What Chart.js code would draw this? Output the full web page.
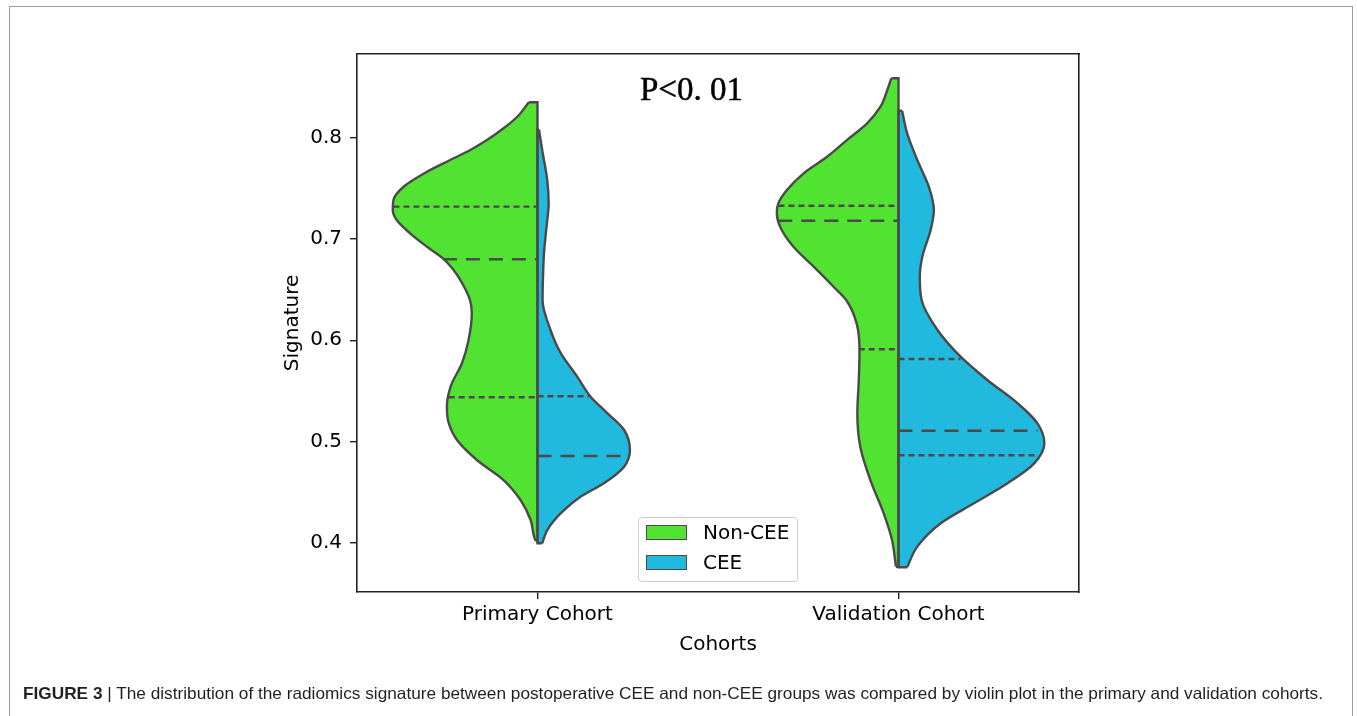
<!DOCTYPE html>
<html>
<head>
<meta charset="utf-8">
<script src="https://cdn.jsdelivr.net/npm/chart.js@4.4.0/dist/chart.umd.min.js"></script>
<style>
html,body{margin:0;padding:0;background:#fff;}
#wrap{position:relative;width:1357px;height:716px;overflow:hidden;background:#fff;}
#frame{position:absolute;left:9px;top:6px;width:1344px;height:800px;border:1px solid #9c9c9c;box-sizing:border-box;}
#c{position:absolute;left:0;top:0;}
#ptext{position:absolute;left:640px;top:69px;font-family:"Liberation Serif","Times New Roman",serif;font-size:33px;line-height:40px;font-weight:normal;color:#000;white-space:nowrap;-webkit-text-stroke:0.5px #000;}
#legend{position:absolute;left:638px;top:517px;width:160px;height:65px;border:1px solid #cfcfcf;border-radius:4px;background:rgba(255,255,255,0.85);box-sizing:border-box;}
.sw{position:absolute;width:41px;height:15px;border:1px solid #4a4a4a;box-sizing:border-box;}
.lt{position:absolute;font-family:"DejaVu Sans",sans-serif;font-size:20px;line-height:24px;color:#000;white-space:nowrap;}
#caption{position:absolute;left:23px;top:683px;font-family:"Liberation Sans",Arial,sans-serif;font-size:16.5px;line-height:20px;color:#231f20;white-space:nowrap;transform-origin:0 0;}
#caption b{font-weight:bold;}
</style>
</head>
<body>
<div id="wrap">
  <div id="frame"></div>
  <canvas id="c" width="1357" height="716"></canvas>
  <div id="ptext">P&lt;0. 01</div>
  <div id="legend"></div>
  <div id="caption"><b>FIGURE 3</b> | The distribution of the radiomics signature between postoperative CEE and non-CEE groups was compared by violin plot in the primary and validation cohorts.</div>
</div>
<script>
// ---------------- data ----------------
const categories = ['Primary Cohort', 'Validation Cohort'];
const groups = ['Non-CEE', 'CEE'];
const yTicks = [0.4, 0.5, 0.6, 0.7, 0.8];

// half-violin outlines: Signature values (top to bottom) and half-widths (x units)
const primaryNonCEE_y = [0.835, 0.8207, 0.8093, 0.7977, 0.7879, 0.7780, 0.7664, 0.7516, 0.7385, 0.7286, 0.7187, 0.7056, 0.6923, 0.6809, 0.6700, 0.6595, 0.6397, 0.6269, 0.6002, 0.5775, 0.5548, 0.5343, 0.5182, 0.5014, 0.4817, 0.4619, 0.4422, 0.4224, 0.4027, 0.4017];
const primaryNonCEE_w = [0.024, 0.056, 0.094, 0.140, 0.186, 0.242, 0.306, 0.371, 0.399, 0.401, 0.390, 0.353, 0.306, 0.262, 0.234, 0.214, 0.187, 0.182, 0.191, 0.209, 0.240, 0.251, 0.246, 0.223, 0.168, 0.094, 0.047, 0.019, 0.006, 0.004];

const primaryCEE_y = [0.8083, 0.7879, 0.7582, 0.7352, 0.7121, 0.6858, 0.6595, 0.6397, 0.6101, 0.5874, 0.5640, 0.5442, 0.5278, 0.5113, 0.4916, 0.4751, 0.4587, 0.4454, 0.4290, 0.4125, 0.3994];
const primaryCEE_w = [0.004, 0.013, 0.027, 0.031, 0.025, 0.018, 0.015, 0.014, 0.036, 0.064, 0.110, 0.147, 0.194, 0.240, 0.256, 0.240, 0.184, 0.119, 0.064, 0.027, 0.013];

const validationNonCEE_y = [0.8587, 0.8471, 0.8306, 0.8142, 0.7977, 0.7812, 0.7648, 0.7483, 0.7352, 0.7253, 0.7121, 0.6923, 0.6726, 0.6528, 0.6397, 0.6167, 0.5903, 0.5607, 0.5278, 0.4948, 0.4619, 0.4290, 0.4027, 0.3763];
const validationNonCEE_w = [0.020, 0.031, 0.050, 0.087, 0.143, 0.198, 0.263, 0.309, 0.333, 0.337, 0.328, 0.291, 0.235, 0.180, 0.145, 0.116, 0.108, 0.110, 0.114, 0.106, 0.078, 0.041, 0.018, 0.007];

const validationCEE_y = [0.8267, 0.8043, 0.7780, 0.7516, 0.7286, 0.7088, 0.6825, 0.6627, 0.6397, 0.6101, 0.5837, 0.5607, 0.5377, 0.5179, 0.4982, 0.4784, 0.4587, 0.4389, 0.4192, 0.3961, 0.3757];
const validationCEE_w = [0.010, 0.024, 0.052, 0.084, 0.098, 0.089, 0.066, 0.059, 0.064, 0.108, 0.172, 0.246, 0.330, 0.385, 0.404, 0.376, 0.302, 0.209, 0.117, 0.052, 0.024];

// quartile lines per cohort [Primary, Validation]
const nonCEE_q75 = [0.7319, 0.7328], nonCEE_q75W = [0.399, 0.3325];
const nonCEE_med = [0.6800, 0.7180], nonCEE_medW = [0.262, 0.333];
const nonCEE_q25 = [0.5436, 0.5910], nonCEE_q25W = [0.246, 0.110];
const cee_q75 = [0.5446, 0.5814], cee_q75W = [0.142, 0.172];
const cee_med = [0.4857, 0.5106], cee_medW = [0.254, 0.385];
const cee_q25 = [null, 0.4863], cee_q25W = [null, 0.385];

// ---------------- styling ----------------
const GREEN = '#52e232', BLUE = '#21b9de', EDGE = '#4a4a4a';
const AX = '#222222';
const FONT = {family: 'DejaVu Sans', size: 20};

function halfViolin(center, side, ys, ws, color, label) {
  const curve = ys.map((y, i) => ({x: center + side * ws[i], y}));
  const n = ys.length - 1;
  const caps = [
    {x: center + side * ws[0], y: ys[0]},
    {x: center, y: ys[0]},
    {x: center, y: ys[n]},
    {x: center + side * ws[n], y: ys[n]}
  ];
  return [
    {label, data: curve, fill: {value: center}, backgroundColor: color, borderColor: EDGE,
     borderWidth: 2.4, cubicInterpolationMode: 'monotone', pointRadius: 0, order: 3, borderJoinStyle: 'round'},
    {label: label + ' edge', data: caps, fill: false, borderColor: EDGE, borderWidth: 2.4,
     tension: 0, pointRadius: 0, order: 2, borderJoinStyle: 'miter'}
  ];
}
function qLine(center, side, v, w, dash) {
  if (v === null) return [];
  const pts = side < 0 ? [{x: center - w, y: v}, {x: center, y: v}] : [{x: center, y: v}, {x: center + w, y: v}];
  return [{label: 'q', data: pts, fill: false, borderColor: EDGE, borderWidth: 2.4, borderDash: dash,
           borderCapStyle: 'butt', tension: 0, pointRadius: 0, order: 1}];
}
const DOT = [6, 4], DASH = [14, 9];

let datasets = [];
datasets = datasets.concat(halfViolin(0, -1, primaryNonCEE_y, primaryNonCEE_w, GREEN, groups[0]));
datasets = datasets.concat(halfViolin(0, 1, primaryCEE_y, primaryCEE_w, BLUE, groups[1]));
datasets = datasets.concat(halfViolin(1, -1, validationNonCEE_y, validationNonCEE_w, GREEN, groups[0]));
datasets = datasets.concat(halfViolin(1, 1, validationCEE_y, validationCEE_w, BLUE, groups[1]));
for (let c = 0; c < 2; c++) {
  datasets = datasets.concat(qLine(c, -1, nonCEE_q75[c], nonCEE_q75W[c], DOT));
  datasets = datasets.concat(qLine(c, -1, nonCEE_med[c], nonCEE_medW[c], DASH));
  datasets = datasets.concat(qLine(c, -1, nonCEE_q25[c], nonCEE_q25W[c], DOT));
  datasets = datasets.concat(qLine(c, 1, cee_q75[c], cee_q75W[c], DOT));
  datasets = datasets.concat(qLine(c, 1, cee_med[c], cee_medW[c], DASH));
  datasets = datasets.concat(qLine(c, 1, cee_q25[c], cee_q25W[c], DOT));
}

const gridOpts = {drawOnChartArea: false, drawTicks: true, tickLength: 7, color: AX, lineWidth: 1.4};
const borderOpts = {display: true, color: AX, width: 1.6};

new Chart(document.getElementById('c'), {
  type: 'line',
  data: {datasets},
  options: {
    indexAxis: 'y',
    responsive: false,
    animation: false,
    events: [],
    layout: {padding: 0},
    plugins: {legend: {display: false}, tooltip: {enabled: false}, title: {display: false}},
    scales: {
      x: {
        type: 'linear', position: 'bottom', min: -0.5, max: 1.5,
        afterBuildTicks: s => { s.ticks = [{value: 0}, {value: 1}]; },
        ticks: {callback: v => categories[v], font: FONT, color: '#000', padding: 4, maxRotation: 0, autoSkip: false},
        grid: gridOpts, border: borderOpts,
        title: {display: true, text: 'Cohorts', font: FONT, color: '#000', padding: {top: 0, bottom: 59}},
        afterFit: s => { s.height = 124; }
      },
      y: {
        type: 'linear', position: 'left', min: 0.3513, max: 0.8827,
        afterBuildTicks: s => { s.ticks = yTicks.map(v => ({value: v})); },
        ticks: {callback: v => v.toFixed(1), font: FONT, color: '#000', padding: 8},
        grid: gridOpts, border: borderOpts,
        title: {display: true, text: 'Signature', font: FONT, color: '#000', padding: {top: 281, bottom: 0}},
        afterFit: s => { s.width = 357; }
      },
      x2: {
        type: 'linear', position: 'top', min: 0, max: 1,
        ticks: {display: false}, grid: {display: false, drawTicks: false}, border: borderOpts,
        afterFit: s => { s.height = 54; }
      },
      y2: {
        type: 'linear', position: 'right', min: 0, max: 1,
        ticks: {display: false}, grid: {display: false, drawTicks: false}, border: borderOpts,
        afterFit: s => { s.width = 1357 - 1079; }
      }
    }
  }
});

// legend (inside the plot, bottom center)
const lg = document.getElementById('legend');
const legendColors = [GREEN, BLUE];
groups.forEach((g, i) => {
  const sw = document.createElement('div');
  sw.className = 'sw';
  sw.style.left = '7px';
  sw.style.top = (7 + i * 30) + 'px';
  sw.style.background = legendColors[i];
  lg.appendChild(sw);
  const t = document.createElement('div');
  t.className = 'lt';
  t.style.left = '64px';
  t.style.top = (2 + i * 30) + 'px';
  t.textContent = g;
  lg.appendChild(t);
});

// fit caption width to the reference line length
const cap = document.getElementById('caption');
const cw = cap.getBoundingClientRect().width;
cap.style.transform = 'scaleX(' + (1300 / cw) + ')';
</script>
</body>
</html>
